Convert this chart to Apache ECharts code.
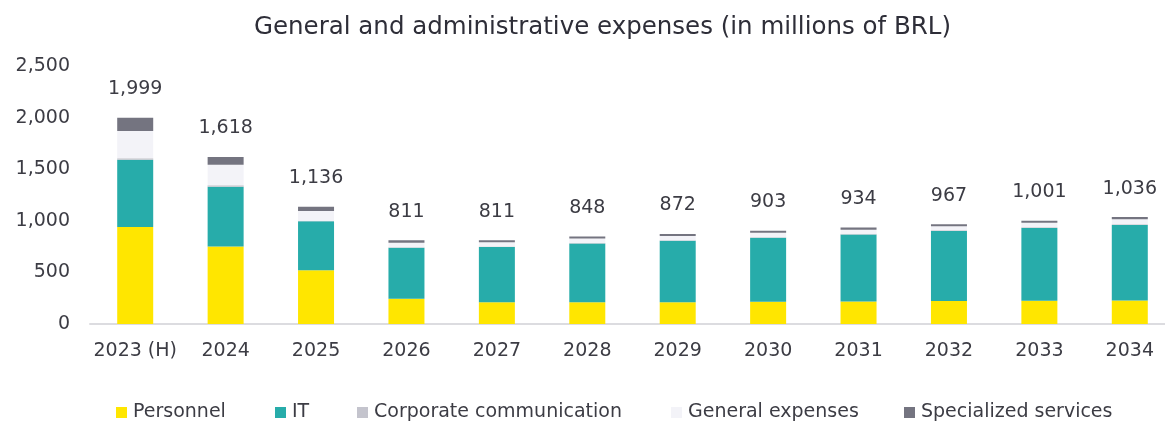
<!DOCTYPE html>
<html>
<head>
<meta charset="utf-8">
<script src="https://cdn.jsdelivr.net/npm/echarts@6/dist/echarts.min.js"></script>
<style>
  html, body { margin: 0; padding: 0; background: #ffffff; overflow: hidden; }
  /* canvas runs slightly past the window's right edge so the last bar keeps full spacing */
  #chart { width: 1176px; height: 424px; }
</style>
</head>
<body>
<div id="chart"></div>
<script>
// Categories (2023 is historical, the rest are projections)
const years = ['2023 (H)', '2024', '2025', '2026', '2027', '2028', '2029', '2030', '2031', '2032', '2033', '2034'];

// Expense components, in millions of BRL
const personnel   = [940, 750, 520, 245, 210, 210, 210, 215, 218, 222, 225, 228];
const it          = [652, 580, 475, 493, 535, 570, 596, 620, 650, 680, 706, 732];
const corporate   = [15, 14, 6, 5, 6, 6, 6, 6, 6, 6, 6, 6];
const general     = [262, 200, 95, 45, 40, 42, 40, 42, 40, 39, 44, 50];
const specialized = [130, 74, 40, 23, 20, 20, 20, 20, 20, 20, 20, 20];

// Y axis ticks
const yTicks = [0, 500, 1000, 1500, 2000, 2500];

const seriesNames = ['Personnel', 'IT', 'Corporate communication', 'General expenses', 'Specialized services'];
const seriesData  = [personnel, it, corporate, general, specialized];
const colors      = ['#FFE600', '#27ACAA', '#C4C4CD', '#F3F3F8', '#747480'];

// Stack totals shown above each bar
const totals = years.map((_, i) => seriesData.reduce((s, arr) => s + arr[i], 0));

const fmt = v => v.toLocaleString('en-US');
const FONT = 'DejaVu Sans';
const TEXT = '#3c3c44';

const series = seriesNames.map((name, k) => ({
  name,
  type: 'bar',
  stack: 'total',
  barWidth: 36,
  data: seriesData[k],
  itemStyle: { color: colors[k] },
  emphasis: { disabled: true },
  label: k === seriesNames.length - 1 ? {
    show: true,
    position: 'top',
    distance: 19,
    fontFamily: FONT,
    fontSize: 19,
    color: TEXT,
    formatter: p => fmt(totals[p.dataIndex])
  } : { show: false }
}));

// One legend block per entry, so each sits at its own spot along the bottom row
const legendLeft = [116, 275, 357, 671, 904];
const legends = seriesNames.map((name, k) => ({
  data: [name],
  left: legendLeft[k],
  top: 403,
  padding: 0,
  itemWidth: 11,
  itemHeight: 11,
  icon: 'rect',
  selectedMode: false,
  textStyle: { fontFamily: FONT, fontSize: 19, color: TEXT, padding: [0, 0, 0, 1] }
}));

const chart = echarts.init(document.getElementById('chart'), null, { renderer: 'canvas' });
chart.setOption({
  animation: false,
  color: colors,
  title: {
    text: 'General and administrative expenses (in millions of BRL)',
    left: 254,
    top: 15,
    padding: 0,
    textStyle: { fontFamily: FONT, fontSize: 24.5, fontWeight: 'normal', color: '#2E2E38' }
  },
  legend: legends,
  grid: { left: 90, width: 1085, top: 66, bottom: 100, containLabel: false },
  xAxis: {
    type: 'category',
    data: years,
    axisLine: { show: true, lineStyle: { color: '#DCDCE0', width: 2 } },
    axisTick: { show: false },
    axisLabel: { fontFamily: FONT, fontSize: 19, color: TEXT, margin: 18, interval: 0 }
  },
  yAxis: {
    type: 'value',
    min: yTicks[0],
    max: yTicks[yTicks.length - 1],
    interval: yTicks[1] - yTicks[0],
    axisLine: { show: false },
    axisTick: { show: false },
    splitLine: { show: false },
    axisLabel: { fontFamily: FONT, fontSize: 19, color: TEXT, margin: 20, formatter: v => fmt(v) }
  },
  series
});
</script>
</body>
</html>
